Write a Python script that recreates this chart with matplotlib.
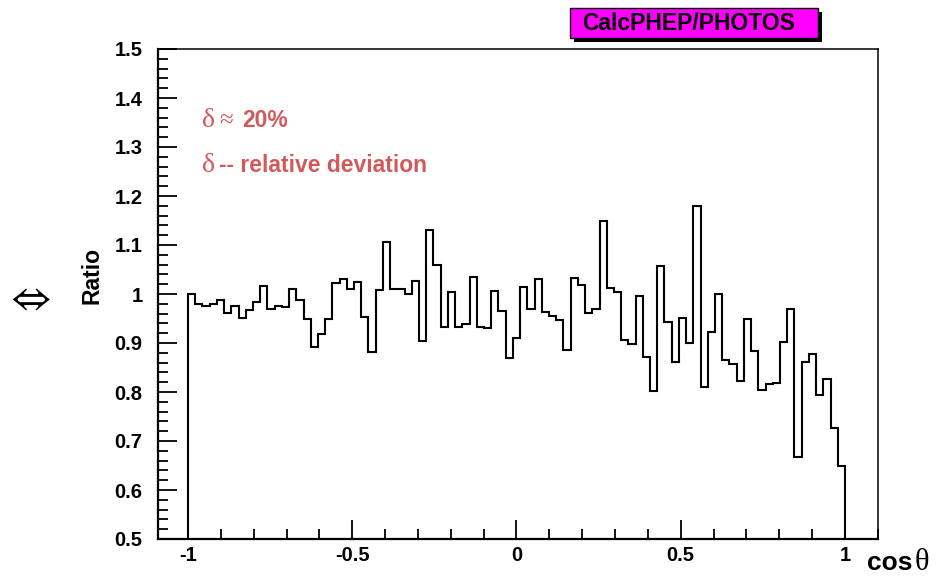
import numpy as np
import matplotlib
matplotlib.use('Agg')
import matplotlib.pyplot as plt
from matplotlib.patches import Rectangle
from matplotlib.ticker import MultipleLocator, FixedLocator, FixedFormatter

# ---- data ----
ratio = [1.000, 0.979, 0.976, 0.979, 0.988, 0.961, 0.976, 0.952, 0.968, 0.983,
         1.016, 0.969, 0.976, 0.973, 1.010, 0.988, 0.949, 0.891, 0.919, 0.949,
         1.022, 1.030, 1.010, 1.025, 0.953, 0.881, 1.008, 1.107, 1.011, 1.011,
         1.001, 1.027, 0.904, 1.131, 1.060, 0.933, 1.005, 0.933, 0.939, 1.034,
         0.932, 0.930, 1.007, 0.965, 0.869, 0.910, 1.015, 0.969, 1.030, 0.964,
         0.955, 0.947, 0.886, 1.033, 1.019, 0.962, 0.970, 1.148, 1.012, 1.005,
         0.907, 0.897, 0.995, 0.871, 0.802, 1.058, 0.943, 0.862, 0.952, 0.900,
         1.179, 0.811, 0.923, 0.999, 0.866, 0.857, 0.823, 0.950, 0.884, 0.804,
         0.816, 0.819, 0.902, 0.969, 0.668, 0.861, 0.878, 0.793, 0.826, 0.726,
         0.649]
x_range = (-1.0, 1.0)
x_ticks = [-1, -0.5, 0, 0.5, 1]
x_tick_labels = ['-1', '-0.5', '0', '0.5', '1']
y_ticks = [0.5, 0.6, 0.7, 0.8, 0.9, 1.0, 1.1, 1.2, 1.3, 1.4, 1.5]
y_tick_labels = ['0.5', '0.6', '0.7', '0.8', '0.9', '1', '1.1', '1.2', '1.3', '1.4', '1.5']
title_text = 'CalcPHEP/PHOTOS'
ylabel_text = 'Ratio'
note1 = '20%'
note2 = '-- relative deviation'

W, H = 953, 576
fig = plt.figure(figsize=(W / 100, H / 100), dpi=100)
fig.patch.set_facecolor('white')

def px(x, y):
    return x / W, 1 - y / H

SANS = ['Liberation Sans', 'DejaVu Sans']
SERIF = ['Liberation Serif', 'DejaVu Serif']
red = '#d25a5c'

ax = fig.add_axes([158 / W, 1 - 539 / H, 720 / W, 490 / H])
edges = np.linspace(x_range[0], x_range[1], len(ratio) + 1)
ax.stairs(ratio, edges, baseline=0.0, color='black', linewidth=1.5)
ax.set_xlim(-1.0913, 1.1005)
ax.set_ylim(0.5, 1.5)

ax.xaxis.set_major_locator(FixedLocator(x_ticks))
ax.xaxis.set_major_formatter(FixedFormatter(x_tick_labels))
ax.xaxis.set_minor_locator(MultipleLocator(0.1))
ax.yaxis.set_major_locator(FixedLocator(y_ticks))
ax.yaxis.set_major_formatter(FixedFormatter(y_tick_labels))
ax.yaxis.set_minor_locator(MultipleLocator(0.02))

ax.tick_params(axis='both', which='both', direction='in', top=False, right=False, width=1.3)
ax.tick_params(axis='both', which='major', length=14)
ax.tick_params(axis='both', which='minor', length=7)
ax.tick_params(axis='x', which='major', pad=5)
ax.tick_params(axis='y', which='major', pad=11)
for lab in ax.get_xticklabels() + ax.get_yticklabels():
    lab.set_family(SANS)
    lab.set_fontweight('bold')
    lab.set_fontsize(14.5)
for s in ['left', 'bottom']:
    ax.spines[s].set_linewidth(1.6)
for s in ['top', 'right']:
    ax.spines[s].set_linewidth(1.1)

# axis titles
fig.text(*px(92, 275), ylabel_text, rotation=90, ha='center', va='center',
         family=SANS, fontweight='bold', fontsize=16.5)
fig.text(*px(30, 300), '\u21d4', ha='center', va='center',
         family=['STIXGeneral', 'DejaVu Serif'], fontsize=30)
fig.text(*px(913, 570), 'cos', ha='right', va='baseline', family=SANS,
         fontweight='bold', fontsize=19)
fig.text(*px(915, 570), '\u03b8', ha='left', va='baseline', family=SERIF, fontsize=22)

# annotations
fig.text(*px(202, 127), '\u03b4', ha='left', va='baseline', family=SERIF, fontsize=20, color=red)
fig.text(*px(219, 127), '\u2248', ha='left', va='baseline', family=SERIF, fontsize=18, color=red)
fig.text(*px(242, 127), note1, ha='left', va='baseline', family=SANS, fontweight='bold',
         fontsize=16.5, color=red)
fig.text(*px(202, 172), '\u03b4', ha='left', va='baseline', family=SERIF, fontsize=20, color=red)
fig.text(*px(219, 172), note2, ha='left', va='baseline', family=SANS, fontweight='bold',
         fontsize=16.5, color=red)

# title box with shadow
bx0, by0, bx1, by1 = 570, 8, 818, 38
sh = 4
fig.patches.append(Rectangle(((bx0 + sh) / W, 1 - (by1 + sh) / H), (bx1 - bx0) / W, (by1 - by0) / H,
                             transform=fig.transFigure, facecolor='black', edgecolor='black', lw=0))
fig.patches.append(Rectangle((bx0 / W, 1 - by1 / H), (bx1 - bx0) / W, (by1 - by0) / H,
                             transform=fig.transFigure, facecolor='#ff00ff', edgecolor='black', lw=1.0))
fig.text(*px(689, 23), title_text, ha='center', va='center',
         family=SANS, fontweight='bold', fontsize=16.5)

fig.savefig('out.png', dpi=100)
